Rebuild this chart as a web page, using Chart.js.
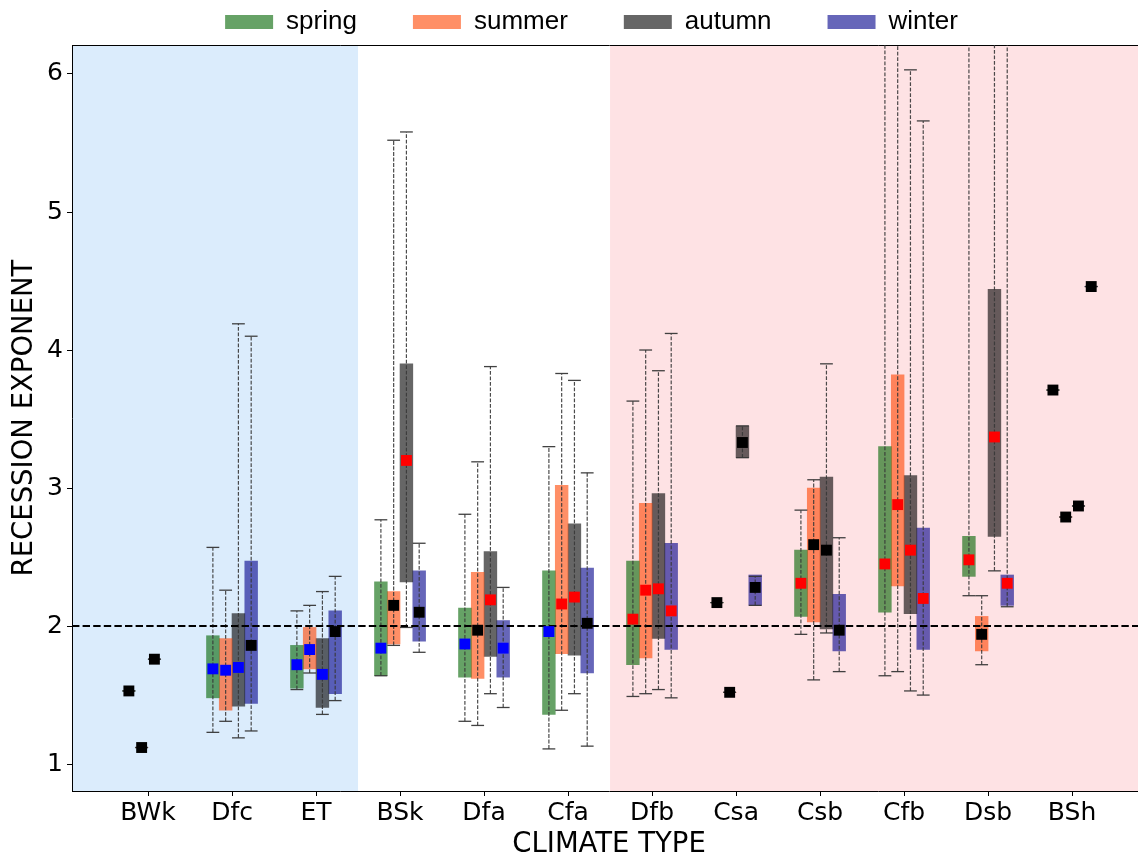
<!DOCTYPE html>
<html>
<head>
<meta charset="utf-8">
<title>Recession exponent by climate type</title>
<script src="https://cdn.jsdelivr.net/npm/chart.js@4.4.1/dist/chart.umd.min.js"></script>
<style>
  html, body { margin: 0; padding: 0; overflow: hidden; background: #ffffff; }
  #wrap { width: 1183px; height: 859px; }
</style>
</head>
<body>
<div id="wrap"><canvas id="chart" width="1183" height="859"></canvas></div>
<script>
// Köppen climate classes along the x axis
const categories = ['BWk', 'Dfc', 'ET', 'BSk', 'Dfa', 'Cfa', 'Dfb', 'Csa', 'Csb', 'Cfb', 'Dsb', 'BSh'];
const seasons = ['spring', 'summer', 'autumn', 'winter'];
const seasonColors = ['rgba(0,100,0,0.6)', 'rgba(255,69,0,0.6)', 'rgba(0,0,0,0.6)', 'rgba(0,0,139,0.6)'];

// One row per climate class, columns: spring, summer, autumn, winter
const medians = [
  [1.53, 1.12, 1.76, null],
  [1.69, 1.68, 1.70, 1.86],
  [1.72, 1.83, 1.65, 1.96],
  [1.84, 2.15, 3.20, 2.10],
  [1.87, 1.97, 2.19, 1.84],
  [1.96, 2.16, 2.21, 2.02],
  [2.05, 2.26, 2.27, 2.11],
  [2.17, 1.52, 3.33, 2.28],
  [2.31, 2.59, 2.55, 1.97],
  [2.45, 2.88, 2.55, 2.20],
  [2.48, 1.94, 3.37, 2.31],
  [3.71, 2.79, 2.87, 4.46]
];
const lowerQuartiles = [
  [1.53, 1.12, 1.76, null],
  [1.48, 1.39, 1.42, 1.44],
  [1.55, 1.69, 1.41, 1.51],
  [1.64, 1.87, 2.32, 1.89],
  [1.63, 1.62, 1.78, 1.63],
  [1.36, 1.80, 1.79, 1.66],
  [1.72, 1.77, 1.91, 1.83],
  [2.17, 1.52, 3.22, 2.15],
  [2.07, 2.03, 1.98, 1.82],
  [2.10, 2.29, 2.09, 1.83],
  [2.36, 1.82, 2.65, 2.15],
  [3.71, 2.79, 2.87, 4.46]
];
const upperQuartiles = [
  [1.53, 1.12, 1.76, null],
  [1.93, 1.91, 2.09, 2.47],
  [1.86, 1.99, 1.91, 2.11],
  [2.32, 2.25, 3.90, 2.40],
  [2.13, 2.39, 2.54, 2.04],
  [2.40, 3.02, 2.74, 2.42],
  [2.47, 2.89, 2.96, 2.60],
  [2.17, 1.52, 3.45, 2.37],
  [2.55, 3.00, 3.08, 2.23],
  [3.30, 3.82, 3.09, 2.71],
  [2.65, 2.07, 4.44, 2.37],
  [3.71, 2.79, 2.87, 4.46]
];
const whiskerLows = [
  [1.53, 1.12, 1.76, null],
  [1.23, 1.31, 1.19, 1.24],
  [1.54, 1.66, 1.36, 1.46],
  [1.64, 1.86, 1.99, 1.81],
  [1.31, 1.28, 1.51, 1.41],
  [1.11, 1.39, 1.51, 1.13],
  [1.49, 1.51, 1.54, 1.48],
  [2.17, 1.52, 3.22, 2.15],
  [1.94, 1.61, 1.95, 1.67],
  [1.64, 1.67, 1.53, 1.50],
  [2.22, 1.72, 2.40, 2.14],
  [3.71, 2.79, 2.87, 4.46]
];
const whiskerHighs = [
  [1.53, 1.12, 1.76, null],
  [2.57, 2.26, 4.19, 4.10],
  [2.11, 2.15, 2.25, 2.36],
  [2.77, 5.52, 5.58, 2.60],
  [2.81, 3.19, 3.88, 2.28],
  [3.30, 3.83, 3.78, 3.11],
  [3.63, 4.00, 3.85, 4.12],
  [2.17, 1.52, 3.45, 2.36],
  [2.84, 3.06, 3.90, 2.64],
  [6.90, 6.80, 6.03, 5.66],
  [6.70, 2.22, 6.90, 6.80],
  [3.71, 2.79, 2.87, 4.46]
];
// H: median above the reference exponent, L: below it, N: no clear departure
const medianTrend = [
  ['N', 'N', 'N', null],
  ['L', 'L', 'L', 'N'],
  ['L', 'L', 'L', 'N'],
  ['L', 'N', 'H', 'N'],
  ['L', 'N', 'H', 'L'],
  ['L', 'H', 'H', 'N'],
  ['H', 'H', 'H', 'H'],
  ['N', 'N', 'N', 'N'],
  ['H', 'N', 'N', 'N'],
  ['H', 'H', 'H', 'H'],
  ['H', 'N', 'H', 'H'],
  ['N', 'N', 'N', 'N']
];
const trendColors = { H: '#ff0000', L: '#0000ff', N: '#000000' };

const yTicks = [1, 2, 3, 4, 5, 6];
const referenceLevel = 2;
const xRange = [-0.905, 11.88];
const yRange = [0.805, 6.21];
// shaded climate groups (in category units)
const bands = [
  { from: -1, to: 2.5, color: 'rgb(219,236,252)' },
  { from: 5.5, to: 13, color: 'rgb(254,226,228)' }
];
const seasonSlot = 0.152;
const xPos = (i, s) => i + (s - 1.5) * seasonSlot;

const datasets = [];

// interquartile boxes as floating bars
seasons.forEach((name, s) => {
  const pts = [];
  categories.forEach((c, i) => {
    if (lowerQuartiles[i][s] == null) return;
    pts.push({ x: xPos(i, s), y: [lowerQuartiles[i][s], upperQuartiles[i][s]] });
  });
  datasets.push({
    type: 'bar', label: name, data: pts, xAxisID: 'x', yAxisID: 'y',
    backgroundColor: seasonColors[s], borderWidth: 0,
    grouped: false, barPercentage: 1, categoryPercentage: 1, order: 3
  });
});

// dashed whiskers with caps
seasons.forEach((name, s) => {
  const pts = [];
  categories.forEach((c, i) => {
    if (whiskerLows[i][s] == null) return;
    const x = xPos(i, s);
    pts.push({ x, y: whiskerLows[i][s] }, { x, y: whiskerHighs[i][s] }, { x, y: null });
  });
  datasets.push({
    type: 'line', label: name + ' range', data: pts, xAxisID: 'x', yAxisID: 'y',
    borderColor: 'rgba(55,55,55,0.9)', borderWidth: 1.2, borderDash: [3.8, 1.7],
    spanGaps: false, fill: false,
    pointStyle: 'line', pointRadius: 6.4, pointBorderColor: 'rgba(55,55,55,0.95)', pointBorderWidth: 1.3,
    order: 2
  });
});

// median markers
seasons.forEach((name, s) => {
  const pts = [], cols = [];
  categories.forEach((c, i) => {
    if (medians[i][s] == null) return;
    pts.push({ x: xPos(i, s), y: medians[i][s] });
    cols.push(trendColors[medianTrend[i][s]]);
  });
  datasets.push({
    type: 'line', label: name + ' median', data: pts, xAxisID: 'x', yAxisID: 'y',
    showLine: false, pointStyle: 'rect', pointRadius: 7.7,
    pointBackgroundColor: cols, pointBorderWidth: 0, order: 0
  });
});

// reference exponent
datasets.push({
  type: 'line', label: 'reference', xAxisID: 'x', yAxisID: 'y',
  data: [{ x: xRange[0], y: referenceLevel }, { x: xRange[1], y: referenceLevel }],
  borderColor: '#000000', borderWidth: 2, borderDash: [7.4, 3.2], pointRadius: 0, fill: false, order: 1
});

const bandPlugin = {
  id: 'climateBands',
  beforeDraw(chart) {
    const { ctx, chartArea: a, scales: { x } } = chart;
    ctx.save();
    ctx.beginPath();
    ctx.rect(a.left, a.top, a.right - a.left, a.bottom - a.top);
    ctx.clip();
    bands.forEach(b => {
      const x0 = x.getPixelForValue(b.from);
      const x1 = x.getPixelForValue(b.to);
      ctx.fillStyle = b.color;
      ctx.fillRect(x0, a.top, x1 - x0, a.bottom - a.top);
    });
    ctx.restore();
  }
};

Chart.defaults.font.family = "'DejaVu Sans', sans-serif";
Chart.defaults.color = '#000000';

new Chart(document.getElementById('chart'), {
  type: 'bar',
  data: { datasets },
  options: {
    responsive: false,
    devicePixelRatio: 1,
    animation: false,
    events: [],
    layout: { padding: { top: -47, left: 0, right: 0, bottom: 0 } },
    plugins: {
      legend: {
        position: 'top', align: 'center',
        labels: {
          boxWidth: 48, boxHeight: 14, padding: 56, color: '#000000',
          font: { family: "'Liberation Sans', Arial, sans-serif", size: 26 },
          filter: item => item.datasetIndex < seasons.length
        }
      },
      tooltip: { enabled: false }
    },
    scales: {
      x: {
        type: 'linear', position: 'bottom', min: xRange[0], max: xRange[1], offset: false,
        afterBuildTicks: sc => { sc.ticks = categories.map((c, i) => ({ value: i })); },
        afterFit: sc => { sc.height = 68; },
        ticks: {
          callback: v => categories[v], autoSkip: false, maxRotation: 0, minRotation: 0,
          padding: 2, color: '#000000', font: { size: 25 }
        },
        grid: { display: true, drawOnChartArea: false, drawTicks: true, tickLength: 5, tickColor: '#000000', tickWidth: 1, offset: false },
        border: { display: true, color: '#000000', width: 1 },
        title: { display: true, text: 'CLIMATE TYPE', color: '#000000', font: { size: 27.5, lineHeight: 1 }, padding: { top: 0, bottom: 0 } }
      },
      xTop: {
        type: 'linear', position: 'top', min: xRange[0], max: xRange[1], offset: false,
        ticks: { display: false },
        grid: { display: true, drawOnChartArea: false, drawTicks: false },
        border: { display: true, color: '#000000', width: 1 },
        afterFit: sc => { sc.height = 0; }
      },
      y: {
        type: 'linear', position: 'left', min: yRange[0], max: yRange[1], beginAtZero: false,
        afterBuildTicks: sc => { sc.ticks = yTicks.map(v => ({ value: v })); },
        afterFit: sc => { sc.width = 72; },
        ticks: { padding: 4, color: '#000000', font: { size: 25 } },
        grid: { display: true, drawOnChartArea: false, drawTicks: true, tickLength: 5, tickColor: '#000000', tickWidth: 1 },
        border: { display: true, color: '#000000', width: 1 },
        title: { display: true, text: 'RECESSION EXPONENT', color: '#000000', font: { size: 27.5, lineHeight: 1 }, padding: { top: 11, bottom: 0 } }
      },
      yRight: {
        type: 'linear', position: 'right',
        ticks: { display: false },
        grid: { display: false },
        border: { display: false },
        afterFit: sc => { sc.width = 37; }
      }
    }
  },
  plugins: [bandPlugin]
});
</script>
</body>
</html>
